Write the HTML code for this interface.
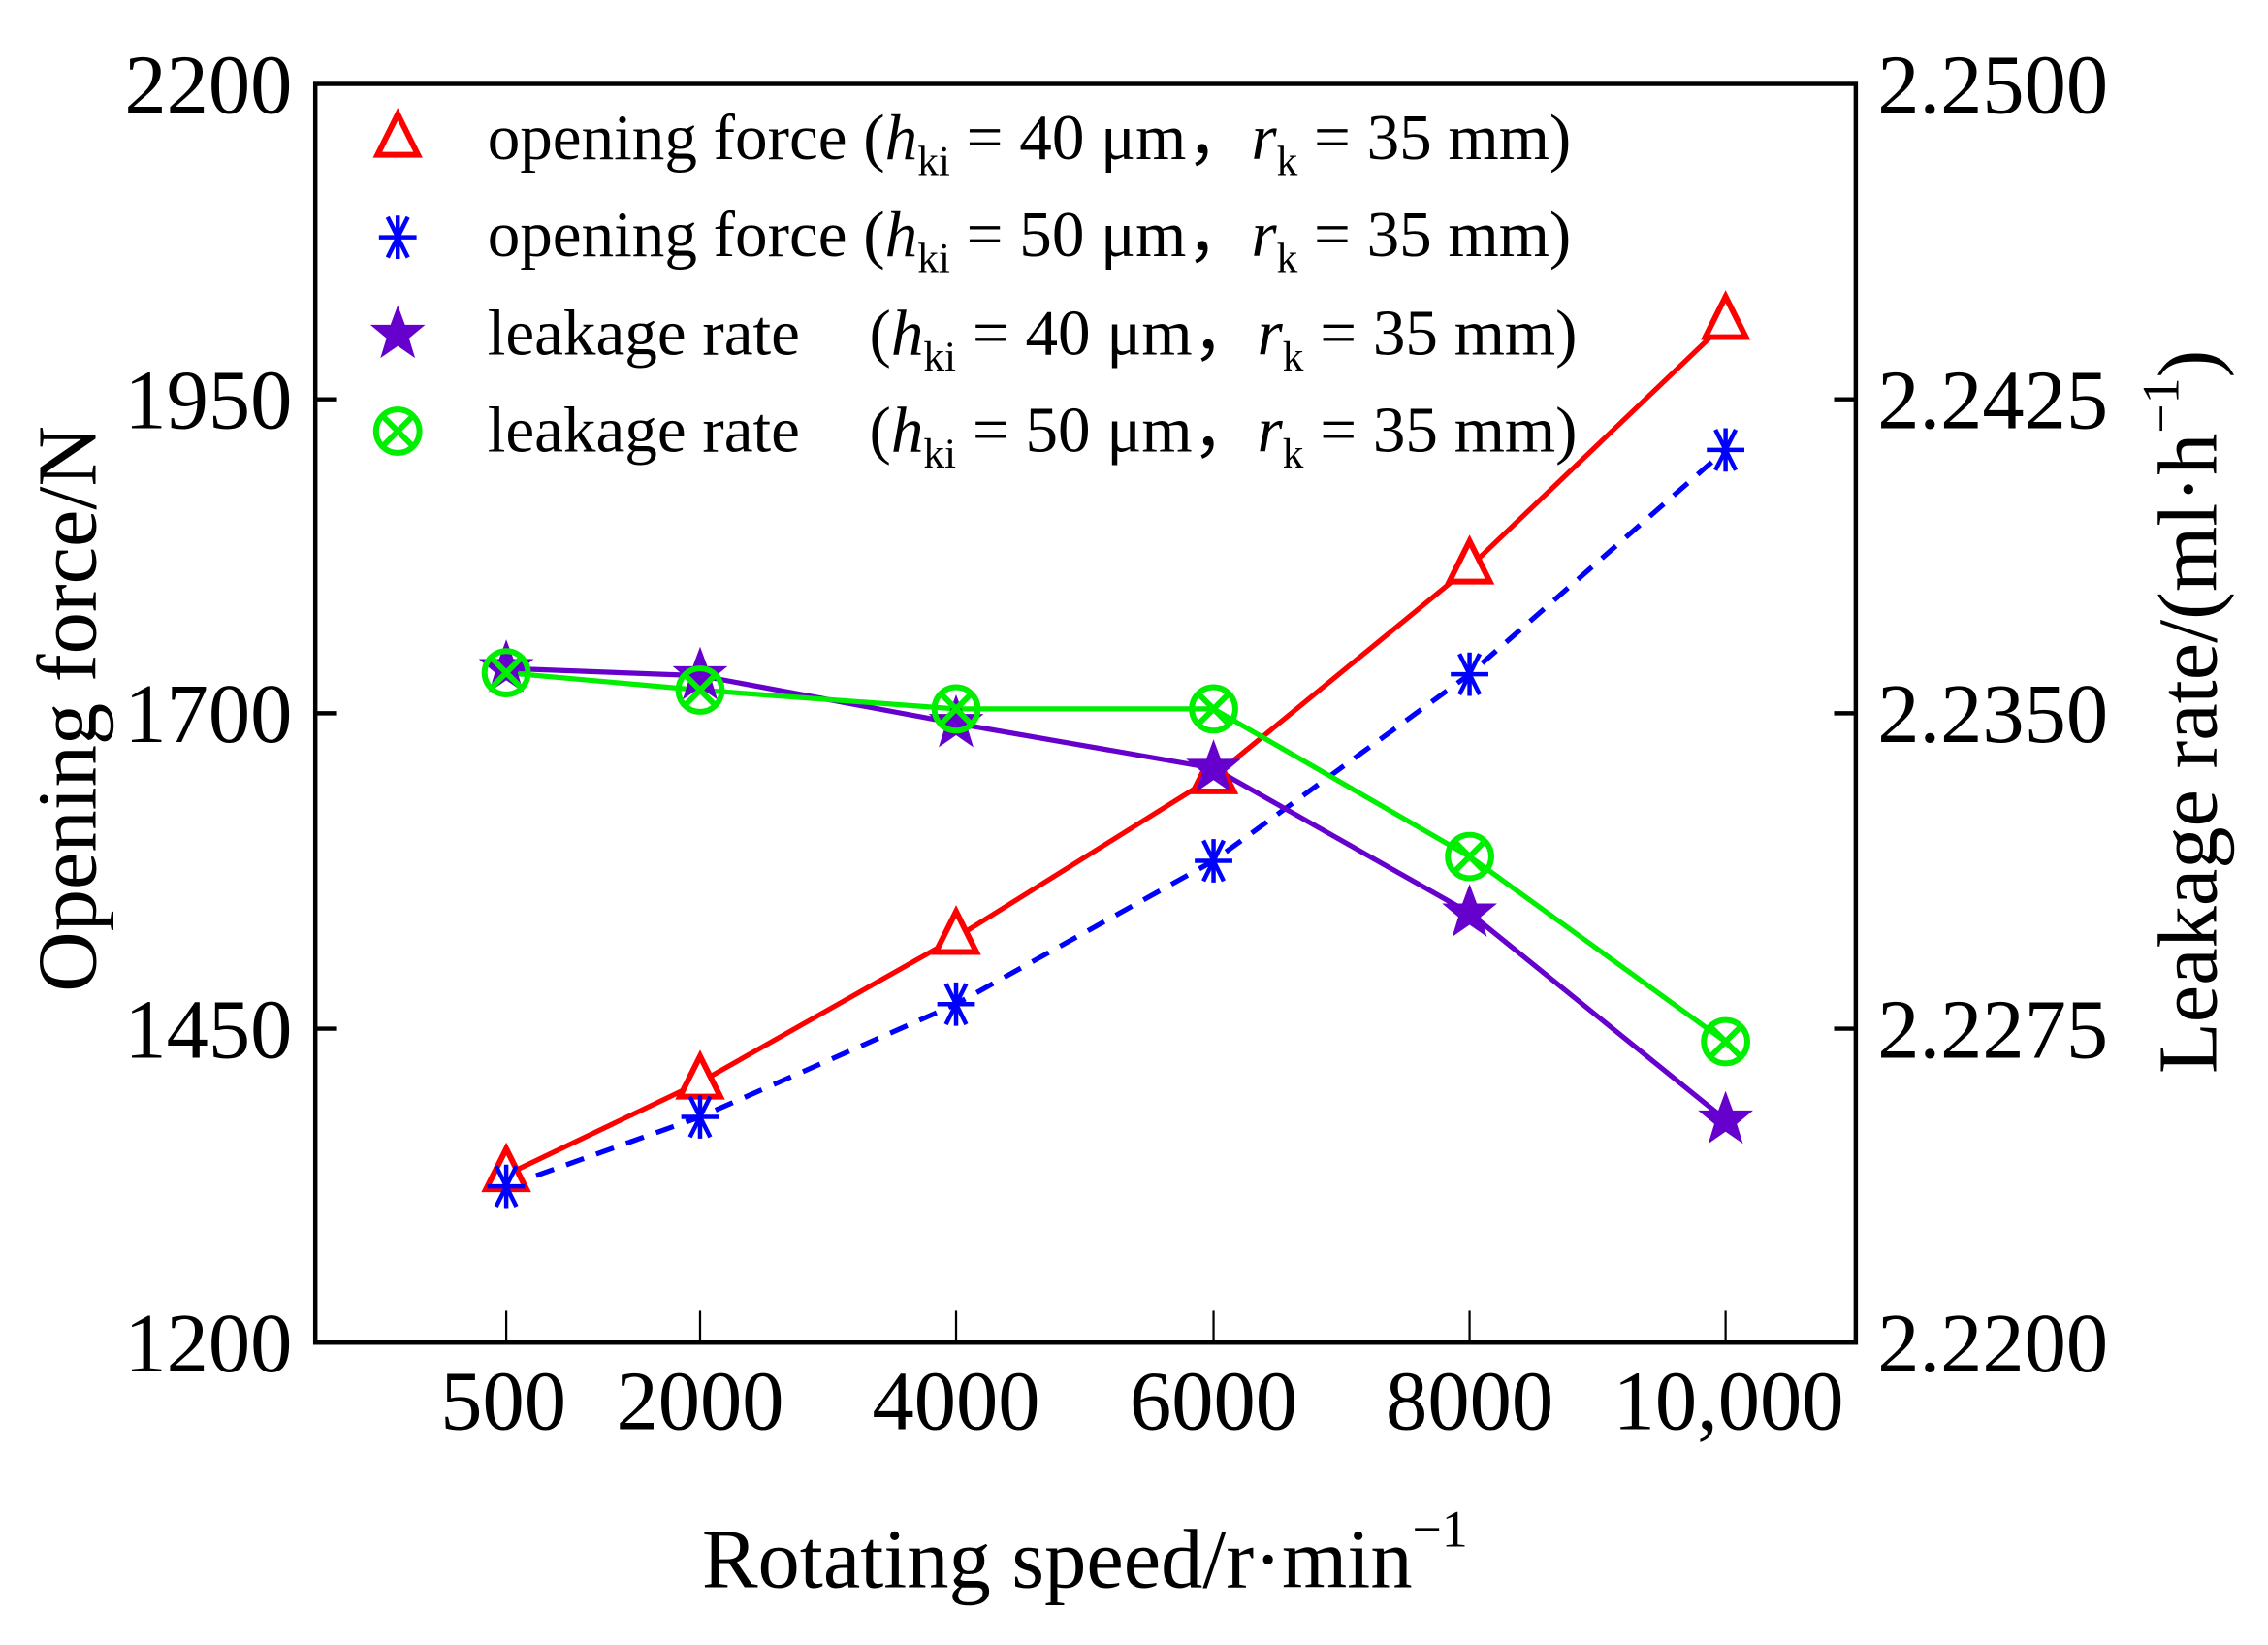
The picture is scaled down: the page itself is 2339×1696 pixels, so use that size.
<!DOCTYPE html>
<html><head><style>html,body{margin:0;padding:0;background:#fff}svg{display:block}</style></head>
<body>
<svg width="2339" height="1696" viewBox="0 0 1568 1137" preserveAspectRatio="none" xmlns="http://www.w3.org/2000/svg" font-family="Liberation Serif, serif">
<defs>
<g id="tri"><path d="M0,-18 L14,10 L-14,10 Z" fill="#fff" stroke="#f00" stroke-width="4"/></g>
<g id="ast" stroke="#00f" stroke-width="3"><line x1="-13" y1="0" x2="13" y2="0"/><line x1="-7" y1="-14" x2="7" y2="14"/><line x1="7" y1="-14" x2="-7" y2="14"/><line x1="0" y1="-15" x2="0" y2="15"/></g>
<g id="star"><path d="M0,-20 L5,-6.5 L19,-6.5 L7.8,2.8 L12,16.5 L0,8.2 L-12,16.5 L-7.8,2.8 L-19,-6.5 L-5,-6.5 Z" fill="#6600cc"/></g>
<g id="circ" stroke="#00ee00" stroke-width="4" fill="none"><ellipse cx="0" cy="0" rx="15" ry="15"/><line x1="-10.5" y1="-10.5" x2="10.5" y2="10.5"/><line x1="10.5" y1="-10.5" x2="-10.5" y2="10.5"/></g>
</defs>
<rect x="218" y="58" width="1065" height="870" fill="none" stroke="#000" stroke-width="3"/>
<g stroke="#000" stroke-width="3">
<line x1="218" y1="276" x2="233" y2="276"/><line x1="218" y1="493" x2="233" y2="493"/><line x1="218" y1="711" x2="233" y2="711"/>
<line x1="1283" y1="276" x2="1268" y2="276"/><line x1="1283" y1="493" x2="1268" y2="493"/><line x1="1283" y1="711" x2="1268" y2="711"/>
</g>
<g stroke="#000" stroke-width="1.5">
<line x1="350" y1="928" x2="350" y2="906"/><line x1="484" y1="928" x2="484" y2="906"/><line x1="661" y1="928" x2="661" y2="906"/><line x1="839" y1="928" x2="839" y2="906"/><line x1="1016" y1="928" x2="1016" y2="906"/><line x1="1193" y1="928" x2="1193" y2="906"/>
</g>
<g font-size="58" text-anchor="end">
<text x="202" y="78">2200</text><text x="202" y="296">1950</text><text x="202" y="513">1700</text><text x="202" y="731">1450</text><text x="202" y="948">1200</text>
</g>
<g font-size="58" text-anchor="start">
<text x="1298" y="78">2.2500</text><text x="1298" y="296">2.2425</text><text x="1298" y="513">2.2350</text><text x="1298" y="731">2.2275</text><text x="1298" y="948">2.2200</text>
</g>
<g font-size="58" text-anchor="middle">
<text x="348" y="988">500</text><text x="484" y="988">2000</text><text x="661" y="988">4000</text><text x="839" y="988">6000</text><text x="1016" y="988">8000</text><text x="1195" y="988">10,000</text>
</g>
<text x="750" y="1097" font-size="58" text-anchor="middle">Rotating speed/r·min<tspan font-size="36" dy="-28">−1</tspan></text>
<text transform="translate(66,490) rotate(-90)" font-size="58" text-anchor="middle">Opening force/N</text>
<text transform="translate(1532,492) rotate(-90)" font-size="58" text-anchor="middle">Leakage rate/(ml·h<tspan font-size="36" dy="-26">−1</tspan><tspan dy="26">)</tspan></text>
<polyline points="350,812 484,748 661,648 839,537 1016,392 1193,223" fill="none" stroke="#f00" stroke-width="3.5"/>
<polyline points="350,820 484,772 661,694 839,595 1016,466 1193,311" fill="none" stroke="#00f" stroke-width="3.5" stroke-dasharray="13,9"/>
<polyline points="350,462 484,467 661,500 839,531 1016,631 1193,774" fill="none" stroke="#6600cc" stroke-width="3.5"/>
<polyline points="350,465 484,477 661,490 839,490 1016,592 1193,720" fill="none" stroke="#00ee00" stroke-width="3.5"/>
<use href="#tri" x="350" y="812"/><use href="#tri" x="484" y="748"/><use href="#tri" x="661" y="648"/><use href="#tri" x="839" y="537"/><use href="#tri" x="1016" y="392"/><use href="#tri" x="1193" y="223"/>
<use href="#ast" x="350" y="820"/><use href="#ast" x="484" y="772"/><use href="#ast" x="661" y="694"/><use href="#ast" x="839" y="595"/><use href="#ast" x="1016" y="466"/><use href="#ast" x="1193" y="311"/>
<use href="#star" x="350" y="462"/><use href="#star" x="484" y="467"/><use href="#star" x="661" y="500"/><use href="#star" x="839" y="531"/><use href="#star" x="1016" y="631"/><use href="#star" x="1193" y="774"/>
<use href="#circ" x="350" y="465"/><use href="#circ" x="484" y="477"/><use href="#circ" x="661" y="490"/><use href="#circ" x="839" y="490"/><use href="#circ" x="1016" y="592"/><use href="#circ" x="1193" y="720"/>
<use href="#tri" x="275" y="97"/><use href="#ast" x="275" y="164"/><use href="#star" x="275" y="231"/><use href="#circ" x="275" y="298"/>
<g font-size="45">
<text x="337" y="110">opening force (<tspan font-style="italic">h</tspan><tspan font-size="29" dy="11">ki</tspan><tspan dy="-11"> = 40 μm，</tspan><tspan font-style="italic">r</tspan><tspan font-size="29" dy="11">k</tspan><tspan dy="-11"> = 35 mm)</tspan></text>
<text x="337" y="177">opening force (<tspan font-style="italic">h</tspan><tspan font-size="29" dy="11">ki</tspan><tspan dy="-11"> = 50 μm，</tspan><tspan font-style="italic">r</tspan><tspan font-size="29" dy="11">k</tspan><tspan dy="-11"> = 35 mm)</tspan></text>
<text x="337" y="245">leakage rate</text>
<text x="601" y="245">(<tspan font-style="italic">h</tspan><tspan font-size="29" dy="11">ki</tspan><tspan dy="-11"> = 40 μm，</tspan><tspan font-style="italic">r</tspan><tspan font-size="29" dy="11">k</tspan><tspan dy="-11"> = 35 mm)</tspan></text>
<text x="337" y="312">leakage rate</text>
<text x="601" y="312">(<tspan font-style="italic">h</tspan><tspan font-size="29" dy="11">ki</tspan><tspan dy="-11"> = 50 μm，</tspan><tspan font-style="italic">r</tspan><tspan font-size="29" dy="11">k</tspan><tspan dy="-11"> = 35 mm)</tspan></text>
</g>
</svg>
</body></html>
